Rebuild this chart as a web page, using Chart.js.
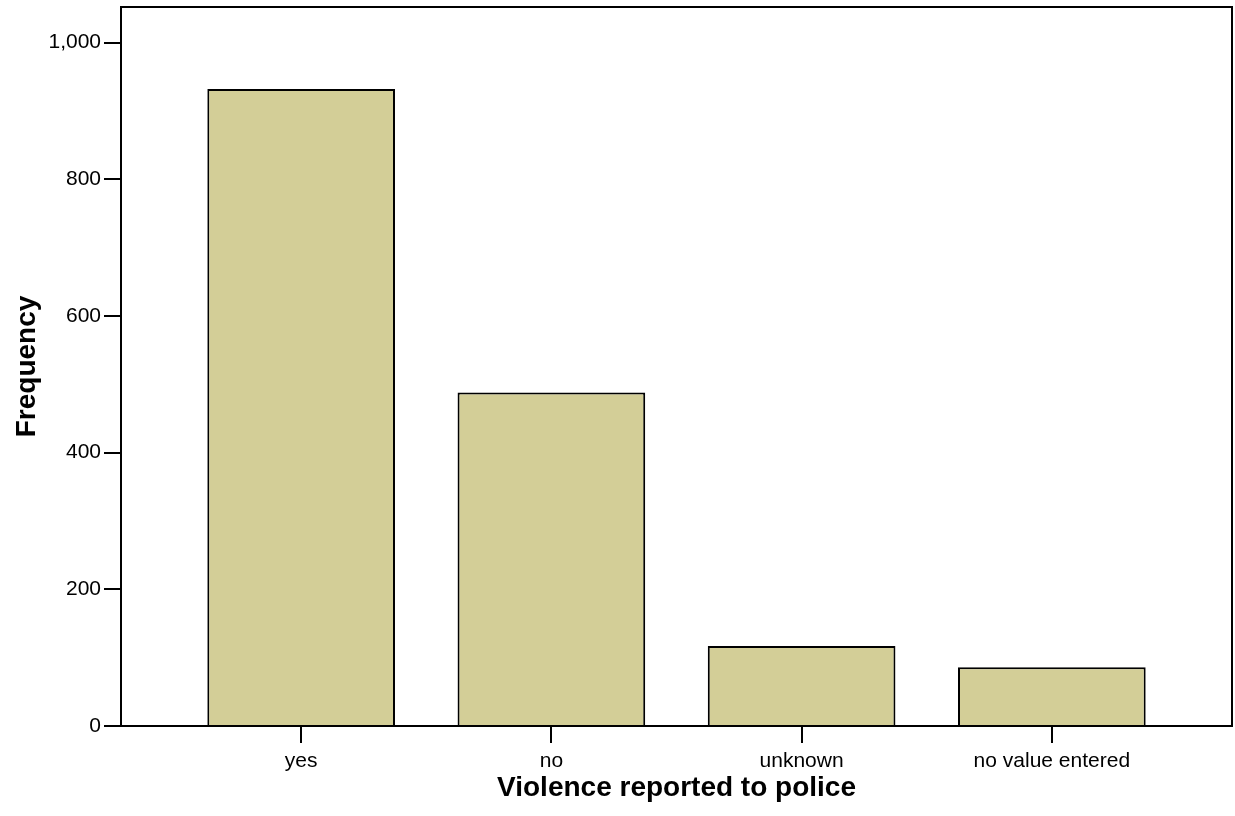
<!DOCTYPE html>
<html>
<head>
<meta charset="utf-8">
<script src="https://cdn.jsdelivr.net/npm/chart.js@4/dist/chart.umd.min.js"></script>
<style>
  body { margin: 0; background: #fff; }
  #wrap { width: 1235px; height: 816px; }
</style>
</head>
<body>
<div id="wrap"><canvas id="c"></canvas></div>
<script>
const categorias = ['yes', 'no', 'unknown', 'no value entered'];
const frequencias = [932, 488, 117, 86];
const ticksY = [0, 200, 400, 600, 800, 1000];

// moldura preta em volta da área do gráfico
const moldura = {
  id: 'moldura',
  afterDraw(chart) {
    const { ctx, chartArea: a } = chart;
    ctx.save();
    ctx.strokeStyle = '#000';
    ctx.lineWidth = 2;
    ctx.strokeRect(a.left, a.top, a.right - a.left, a.bottom - a.top);
    ctx.restore();
  }
};

const fonte = 'Liberation Sans, Arial, sans-serif';

new Chart(document.getElementById('c'), {
  type: 'bar',
  data: {
    datasets: [{
      label: 'Frequency',
      data: frequencias.map((v, i) => ({ x: i, y: v })),
      backgroundColor: '#d3ce97',
      borderColor: '#000',
      borderWidth: 2,
      barPercentage: 0.75,
      categoryPercentage: 1
    }]
  },
  options: {
    responsive: true,
    maintainAspectRatio: false,
    animation: false,
    layout: { padding: { top: 7, right: 3, left: 0, bottom: 0 } },
    plugins: { legend: { display: false }, tooltip: { enabled: false } },
    scales: {
      x: {
        type: 'linear',
        min: -0.72,
        max: 3.72,
        offset: false,
        afterBuildTicks: s => { s.ticks = categorias.map((c, i) => ({ value: i })); },
        afterFit: s => { s.height = 90; s.paddingLeft = 0; s.paddingRight = 0; },
        ticks: {
          autoSkip: false,
          callback: v => categorias[v],
          color: '#000',
          font: { family: fonte, size: 21 },
          padding: 6
        },
        grid: { offset: false, drawOnChartArea: false, tickLength: 17, color: '#000', lineWidth: 2 },
        border: { color: '#000', width: 2 },
        title: {
          display: true,
          text: 'Violence reported to police',
          color: '#000',
          font: { family: fonte, size: 28, weight: 'bold' },
          padding: { top: 0, bottom: 11 }
        }
      },
      y: {
        min: 0,
        max: 1052,
        afterBuildTicks: s => { s.ticks = ticksY.map(v => ({ value: v })); },
        afterFit: s => { s.width = 121; s.paddingTop = 0; s.paddingBottom = 0; },
        ticks: {
          color: '#000',
          font: { family: fonte, size: 21 },
          padding: 3
        },
        grid: { drawOnChartArea: false, tickLength: 17, color: '#000', lineWidth: 2 },
        border: { color: '#000', width: 2 },
        title: {
          display: true,
          text: 'Frequency',
          color: '#000',
          font: { family: fonte, size: 28, weight: 'bold' },
          padding: { top: 10, bottom: 0 }
        }
      }
    }
  },
  plugins: [moldura]
});
</script>
</body>
</html>
